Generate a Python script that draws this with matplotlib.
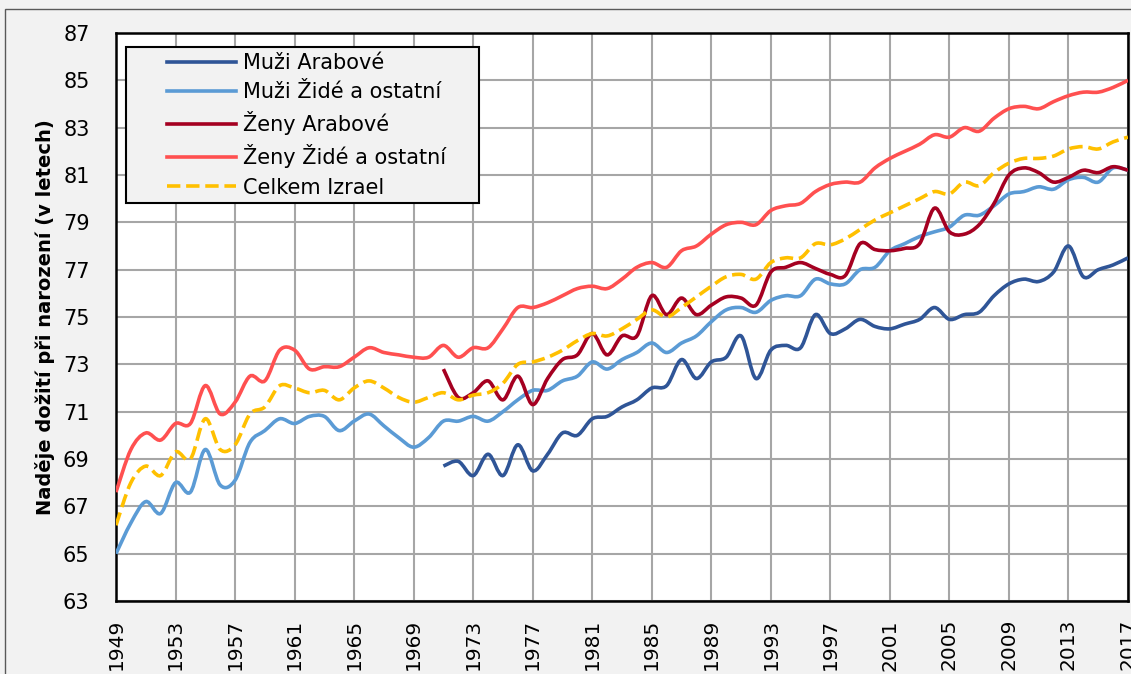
import numpy as np
import matplotlib.pyplot as plt
from matplotlib.path import Path
from matplotlib.patches import PathPatch, Rectangle
from matplotlib.lines import Line2D

# roky
roky_vse = list(range(1949, 2018))
roky_arabove = list(range(1971, 2018))

# Muzi Zide a ostatni 1949-2017
muzi_zide = [65.0, 66.3, 67.2, 66.7, 68.0, 67.6, 69.4, 67.9, 68.1, 69.7,
             70.2, 70.7, 70.5, 70.8, 70.8, 70.2, 70.6, 70.9, 70.4, 69.9,
             69.5, 69.9, 70.6, 70.6, 70.8, 70.6, 71.0, 71.5, 71.9, 71.9,
             72.3, 72.5, 73.1, 72.8, 73.2, 73.5, 73.9, 73.5, 73.9, 74.2,
             74.8, 75.3, 75.4, 75.2, 75.7, 75.9, 75.9, 76.6, 76.4, 76.4,
             77.0, 77.1, 77.8, 78.1, 78.4, 78.6, 78.8, 79.3, 79.3, 79.7,
             80.2, 80.3, 80.5, 80.4, 80.8, 80.9, 80.7, 81.3, 81.2]

# Zeny Zide a ostatni 1949-2017
zeny_zide = [67.6, 69.4, 70.1, 69.8, 70.5, 70.5, 72.1, 70.9, 71.4, 72.5,
             72.3, 73.6, 73.6, 72.8, 72.9, 72.9, 73.3, 73.7, 73.5, 73.4,
             73.3, 73.3, 73.8, 73.3, 73.7, 73.7, 74.5, 75.4, 75.4, 75.6,
             75.9, 76.2, 76.3, 76.2, 76.6, 77.1, 77.3, 77.1, 77.8, 78.0,
             78.5, 78.9, 79.0, 78.9, 79.5, 79.7, 79.8, 80.3, 80.6, 80.7,
             80.7, 81.3, 81.7, 82.0, 82.3, 82.7, 82.6, 83.0, 82.85, 83.4,
             83.8, 83.9, 83.8, 84.1, 84.35, 84.5, 84.5, 84.7, 85.0]

# Celkem Izrael 1949-2017
celkem = [66.2, 68.0, 68.7, 68.3, 69.3, 69.0, 70.7, 69.4, 69.6, 70.9,
          71.2, 72.1, 72.0, 71.8, 71.9, 71.5, 72.0, 72.3, 72.0, 71.6,
          71.4, 71.6, 71.8, 71.5, 71.7, 71.8, 72.2, 73.0, 73.1, 73.3,
          73.6, 74.0, 74.3, 74.2, 74.5, 74.9, 75.3, 75.0, 75.4, 75.85,
          76.3, 76.7, 76.8, 76.6, 77.3, 77.5, 77.5, 78.1, 78.05, 78.3,
          78.7, 79.1, 79.4, 79.7, 80.0, 80.3, 80.2, 80.7, 80.55, 81.1,
          81.5, 81.7, 81.7, 81.8, 82.1, 82.2, 82.1, 82.4, 82.6]

# Muzi Arabove 1971-2017
muzi_arabove = [68.7, 68.9, 68.3, 69.2, 68.3, 69.6, 68.5, 69.2, 70.1, 70.0,
                70.7, 70.8, 71.2, 71.5, 72.0, 72.1, 73.2, 72.4, 73.1, 73.3,
                74.2, 72.4, 73.6, 73.8, 73.7, 75.1, 74.3, 74.5, 74.9, 74.6,
                74.5, 74.7, 74.9, 75.4, 74.9, 75.1, 75.2, 75.9, 76.4, 76.6,
                76.5, 76.9, 78.0, 76.7, 77.0, 77.2, 77.5]

# Zeny Arabove 1971-2017
zeny_arabove = [72.8, 71.6, 71.8, 72.3, 71.5, 72.5, 71.3, 72.4, 73.2, 73.4,
                74.3, 73.4, 74.2, 74.2, 75.9, 75.1, 75.8, 75.1, 75.5, 75.85,
                75.8, 75.5, 76.9, 77.1, 77.3, 77.05, 76.8, 76.75, 78.1, 77.85,
                77.8, 77.9, 78.1, 79.6, 78.6, 78.5, 78.9, 79.8, 81.0, 81.3,
                81.1, 80.7, 80.9, 81.2, 81.1, 81.35, 81.2]

nazvy = ['Muži Arabové', 'Muži Židé a ostatní', 'Ženy Arabové',
         'Ženy Židé a ostatní', 'Celkem Izrael']
barvy = ['#2F5597', '#5B9BD5', '#A50021', '#FF5050', '#FFC000']


def hladka_cesta(x, y):
    # Bezierova krivka jako "smooth line" v Excelu
    x = np.asarray(x, float)
    y = np.asarray(y, float)
    pts = np.column_stack([x, y])
    n = len(pts)
    verts = [pts[0]]
    codes = [Path.MOVETO]
    for i in range(n - 1):
        p0 = pts[i - 1] if i > 0 else pts[i]
        p1 = pts[i]
        p2 = pts[i + 1]
        p3 = pts[i + 2] if i + 2 < n else pts[i + 1]
        c1 = p1 + (p2 - p0) / 6.0
        c2 = p2 - (p3 - p1) / 6.0
        verts += [c1, c2, p2]
        codes += [Path.CURVE4] * 3
    return Path(verts, codes)


fig = plt.figure(figsize=(11.31, 6.74), dpi=100)
fig.patch.set_facecolor('#F2F2F2')
fig.patches.append(Rectangle((5 / 1131, -0.01), 1.0, 1 - 9 / 674 + 0.01,
                             transform=fig.transFigure, fill=False,
                             edgecolor='#595959', linewidth=1.0))

ax = fig.add_axes([116 / 1131, 1 - 601 / 674, 1012 / 1131, 568 / 674])
ax.set_facecolor('white')

serie = [(roky_arabove, muzi_arabove), (roky_vse, muzi_zide),
         (roky_arabove, zeny_arabove), (roky_vse, zeny_zide),
         (roky_vse, celkem)]

handles = []
for (xx, yy), nazev, barva in zip(serie, nazvy, barvy):
    ls = '--' if nazev == 'Celkem Izrael' else '-'
    patch = PathPatch(hladka_cesta(xx, yy), facecolor='none', edgecolor=barva,
                      linewidth=2.6, linestyle=ls, capstyle='butt', zorder=3)
    ax.add_patch(patch)
    handles.append(Line2D([], [], color=barva, linewidth=2.6, linestyle=ls))

ax.set_xlim(1949, 2017)
ax.set_ylim(63, 87)
ax.set_xticks(range(1949, 2018, 4))
ax.set_yticks(range(63, 88, 2))
ax.tick_params(axis='x', length=0, pad=13, labelsize=14.5, rotation=90)
ax.tick_params(axis='y', length=0, pad=19, labelsize=15)
ax.grid(True, color='#A6A6A6', linewidth=1.5)
ax.set_axisbelow(True)
for s in ax.spines.values():
    s.set_linewidth(1.8)
    s.set_color('black')

ax.set_ylabel('Naděje dožití při narození (v letech)', fontsize=14,
              fontweight='bold', labelpad=6)

# ramecek legendy
ax.add_patch(Rectangle((10 / 1012, (601 - 203) / 568), 353 / 1012, 156 / 568,
                       transform=ax.transAxes, facecolor='#F2F2F2',
                       edgecolor='black', linewidth=1.5, zorder=4))
leg = ax.legend(handles, nazvy, loc='upper left',
                bbox_to_anchor=(51 / 1012, (601 - 53) / 568),
                fontsize=15, frameon=False, handlelength=3.3,
                handletextpad=0.35, borderpad=0, labelspacing=0.44,
                borderaxespad=0)
leg.set_zorder(5)

fig.savefig('out.png', dpi=100, facecolor=fig.get_facecolor())
